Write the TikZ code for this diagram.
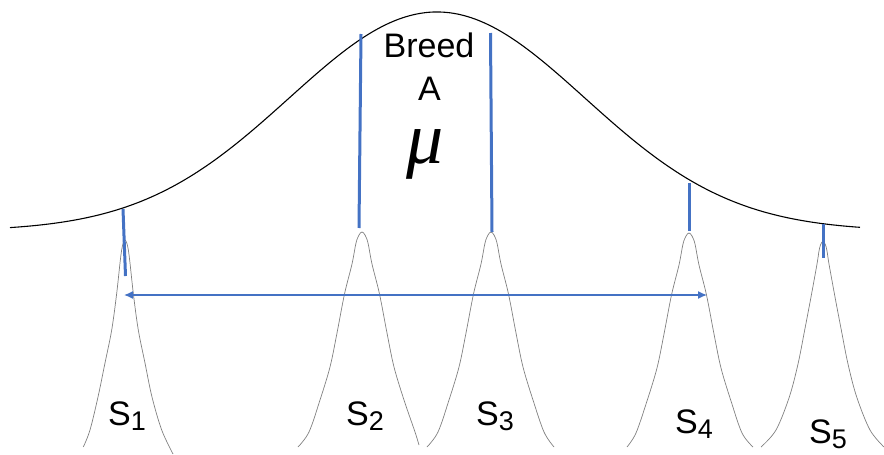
\documentclass[tikz,border=0pt]{standalone}
\usepackage{fontspec}
\setmainfont{Liberation Sans}
\newfontfamily\mufont{Liberation Serif}
\usetikzlibrary{arrows.meta}
\definecolor{lineblue}{RGB}{68,114,196}
\tikzset{
  bigcurve/.style={black, line width=1.1pt},
  smallcurve/.style={black!50, line width=0.7pt},
  meanline/.style={lineblue, line width=3pt},
  rangearrow/.style={lineblue, line width=1.4pt, {Latex[length=9pt,width=8pt]}-{Latex[length=9pt,width=8pt]}},
  biglabel/.style={inner sep=0pt, anchor=base, font=\fontsize{34}{40}\selectfont},
  slabel/.style={inner sep=0pt, anchor=base west, font=\fontsize{34}{40}\selectfont},
}
\newcommand{\sublab}[1]{S\raisebox{-5pt}{\fontsize{27}{30}\selectfont #1}}
\begin{document}
\begin{tikzpicture}[x=1pt,y=-1pt]
\useasboundingbox (0,0) rectangle (884,455);
% small sample curves
\begin{scope}[shift={(125,240)}]
  \draw[smallcurve] plot[smooth,tension=0.55] coordinates {(-41.7,207) (-35,190) (-27,157) (-20,123) (-13.3,90) (-8.5,55) (-5,23) (-3.5,11) (-2,3.7) (0,0) (2,3.7) (3.5,11) (5,23) (8.5,55) (13.3,90) (20,123) (27,157) (36.7,190) (48,214)};
\end{scope}
\begin{scope}[shift={(362,232)}]
  \draw[smallcurve] plot[smooth,tension=0.55] coordinates {(-64,215) (-53,200) (-42,168) (-32,135) (-25,101) (-17.5,62) (-10,32) (-6,11) (-3,3) (0,0) (3,3) (6,11) (10,32) (17.5,62) (25,101) (32,135) (42,168) (53,200) (57,213)};
\end{scope}
\begin{scope}[shift={(491,232)}]
  \draw[smallcurve] plot[smooth,tension=0.55] coordinates {(-64,215) (-53,200) (-42,168) (-32,135) (-25,101) (-17.5,62) (-10,32) (-6,11) (-3,3) (0,0) (3,3) (6,11) (10,32) (17.5,62) (25,101) (32,135) (42,168) (53,200) (63,215)};
\end{scope}
\begin{scope}[shift={(689,233)}]
  \draw[smallcurve] plot[smooth,tension=0.55] coordinates {(-62,214) (-53,200) (-42,168) (-32,135) (-25,101) (-17.5,62) (-10,32) (-6,11) (-3,3) (0,0) (3,3) (6,11) (10,32) (17.5,62) (25,101) (32,135) (42,168) (53,200) (64,214)};
\end{scope}
\begin{scope}[shift={(823,241)}]
  \draw[smallcurve] plot[smooth,tension=0.55] coordinates {(-62,206) (-47,189) (-33.7,156) (-25,123) (-18.3,89) (-12,56) (-6,23) (-4,10) (-2.5,4) (0,0) (2.5,4) (4,10) (6,23) (12,56) (18.3,89) (25,123) (33.7,156) (47,189) (61,206)};
\end{scope}
% breed curve
\draw[bigcurve] plot[domain=10:860,samples=200] (\x,{231-219*exp(-0.5*((\x-437)/148)^2)});
% mean lines
\coordinate (m1t) at (123,209);   \coordinate (m1b) at (125.5,276);
\coordinate (m2t) at (361,34);    \coordinate (m2b) at (359,228);
\coordinate (m3t) at (490.5,33);  \coordinate (m3b) at (492,232);
\coordinate (m4t) at (689,183);   \coordinate (m4b) at (689,231);
\coordinate (m5t) at (823,224);   \coordinate (m5b) at (823,258);
\draw[meanline] (m1t) -- (m1b);
\draw[meanline] (m2t) -- (m2b);
\draw[meanline] (m3t) -- (m3b);
\draw[meanline] (m4t) -- (m4b);
\draw[meanline] (m5t) -- (m5b);
% range arrow
\coordinate (al) at (124,295);
\coordinate (ar) at (707,295);
\draw[rangearrow] (al) -- (ar);
% labels
\node[biglabel] (breed) at (429,57) {Breed};
\node[biglabel] (breedA) at (429.5,100) {A};
\node[inner sep=0pt, anchor=base, font=\mufont\itshape\fontsize{74}{80}\selectfont] (mu) at (425,163) {μ};
\node[slabel] (s1) at (108,425) {\sublab{1}};
\node[slabel] (s2) at (346,425) {\sublab{2}};
\node[slabel] (s3) at (476,425) {\sublab{3}};
\node[slabel] (s4) at (675,433) {\sublab{4}};
\node[slabel] (s5) at (809,443) {\sublab{5}};
\end{tikzpicture}
\end{document}
